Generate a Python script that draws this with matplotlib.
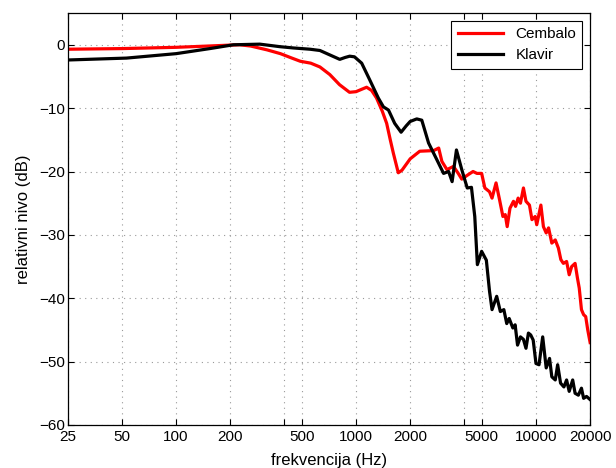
import matplotlib
matplotlib.use("Agg")
import matplotlib.pyplot as plt
from matplotlib.ticker import FixedLocator, FixedFormatter, NullLocator

plt.rcParams['font.family'] = ['Liberation Sans', 'DejaVu Sans']

# frequency response, cembalo
cembalo_f = [25, 50, 100, 150, 200, 226, 260, 320, 380, 440, 490, 560, 630, 715,
             810, 920, 1000, 1080, 1145, 1220, 1300, 1400, 1480, 1550, 1612, 1717,
             1800, 2000, 2260, 2700, 2880, 3000, 3200, 3480, 3700, 3870, 4200, 4470,
             4700, 4990, 5200, 5520, 5700, 6000, 6280, 6550, 6750, 6920, 7170, 7500,
             7700, 7960, 8200, 8520, 8800, 9200, 9500, 9900, 10100, 10650, 11000,
             11400, 11750, 12250, 12800, 13330, 13750, 14200, 14800, 15300, 15800,
             16500, 17000, 17400, 17900, 18400, 18900, 19400, 20000]
cembalo_db = [-0.7, -0.6, -0.4, -0.2, -0.05, 0.0, -0.2, -0.8, -1.4, -2.1, -2.6, -2.9,
              -3.5, -4.7, -6.3, -7.5, -7.4, -7.0, -6.7, -7.2, -8.4, -10.5, -12.4, -15.0,
              -17.1, -20.2, -19.8, -18.0, -16.8, -16.7, -16.3, -18.4, -19.7, -19.2,
              -20.3, -21.2, -20.5, -20.0, -20.3, -20.3, -22.6, -23.2, -24.2, -21.8,
              -24.5, -27.1, -26.8, -28.7, -25.8, -24.7, -25.5, -24.2, -25.0, -22.6,
              -24.7, -25.3, -27.6, -27.1, -28.4, -25.3, -28.7, -29.7, -28.9, -31.3,
              -30.8, -32.1, -33.9, -34.5, -34.2, -36.3, -35.0, -34.5, -36.8, -38.4,
              -41.8, -42.6, -42.9, -45.0, -47.0]

# frequency response, klavir
klavir_f = [25, 53, 100, 154, 208, 292, 378, 448, 555, 630, 715, 812, 870, 922, 980,
            1075, 1190, 1330, 1420, 1515, 1640, 1780, 1900, 2000, 2175, 2320, 2530,
            2820, 3065, 3270, 3420, 3615, 3870, 4150, 4380, 4570, 4725, 4990, 5300,
            5520, 5700, 6050, 6340, 6630, 6880, 7100, 7440, 7660, 7900, 8200, 8520,
            8800, 9080, 9350, 9650, 10000, 10400, 10900, 11400, 11900, 12250, 12800,
            13200, 13700, 14300, 14800, 15300, 16000, 16500, 17200, 17900, 18400,
            19100, 20000]
klavir_db = [-2.4, -2.1, -1.4, -0.6, 0.0, 0.1, -0.3, -0.5, -0.7, -0.9, -1.6, -2.3,
             -2.0, -1.8, -1.9, -2.9, -5.5, -8.4, -9.8, -10.3, -12.4, -13.8, -12.8,
             -12.1, -11.7, -11.9, -15.5, -18.2, -20.3, -20.0, -21.6, -16.6, -19.7,
             -22.6, -22.5, -27.1, -34.7, -32.6, -34.0, -38.9, -41.8, -39.7, -42.1,
             -41.8, -44.0, -43.2, -44.7, -44.2, -47.4, -46.1, -46.5, -47.9, -45.5,
             -45.8, -46.6, -50.3, -50.5, -46.1, -51.0, -49.5, -52.4, -52.9, -50.5,
             -53.4, -54.0, -52.9, -54.7, -52.9, -55.0, -55.3, -54.2, -55.8, -55.5,
             -56.0]

grid_f = [25, 50, 100, 200, 400, 500, 1000, 2000, 4000, 5000, 10000, 20000]
grid_labels = ['25', '50', '100', '200', '', '500', '1000', '2000', '',
               '5000', '10000', '20000']

fig = plt.figure(figsize=(6.16, 4.68), dpi=100)
ax = fig.add_axes([0.110, 0.092, 0.848, 0.880])

ax.semilogx(cembalo_f, cembalo_db, color='#ff0000', lw=2.3, label='Cembalo')
ax.semilogx(klavir_f, klavir_db, color='black', lw=2.3, label='Klavir')

ax.set_xlim(25, 20000)
ax.set_ylim(-60, 5)
ax.xaxis.set_major_locator(FixedLocator(grid_f))
ax.xaxis.set_major_formatter(FixedFormatter(grid_labels))
ax.xaxis.set_minor_locator(NullLocator())
ax.set_yticks([0, -10, -20, -30, -40, -50, -60])

ax.grid(True, linestyle=(0, (1, 4)), color='#999999', linewidth=0.8)
ax.tick_params(direction='in', top=True, right=True, labelsize=11, length=4,
               width=0.8, pad=2)
ax.tick_params(axis='x', pad=4)
for s in ax.spines.values():
    s.set_linewidth(0.9)

ax.set_xlabel('frekvencija (Hz)', fontsize=12, labelpad=6)
ax.set_ylabel('relativni nivo (dB)', fontsize=12, labelpad=6)

leg = ax.legend(loc='upper right', fontsize=11, fancybox=False, framealpha=1,
                edgecolor='black', handlelength=3.0, borderaxespad=0.5)
leg.get_frame().set_linewidth(0.8)

fig.savefig('out.png', dpi=100)
